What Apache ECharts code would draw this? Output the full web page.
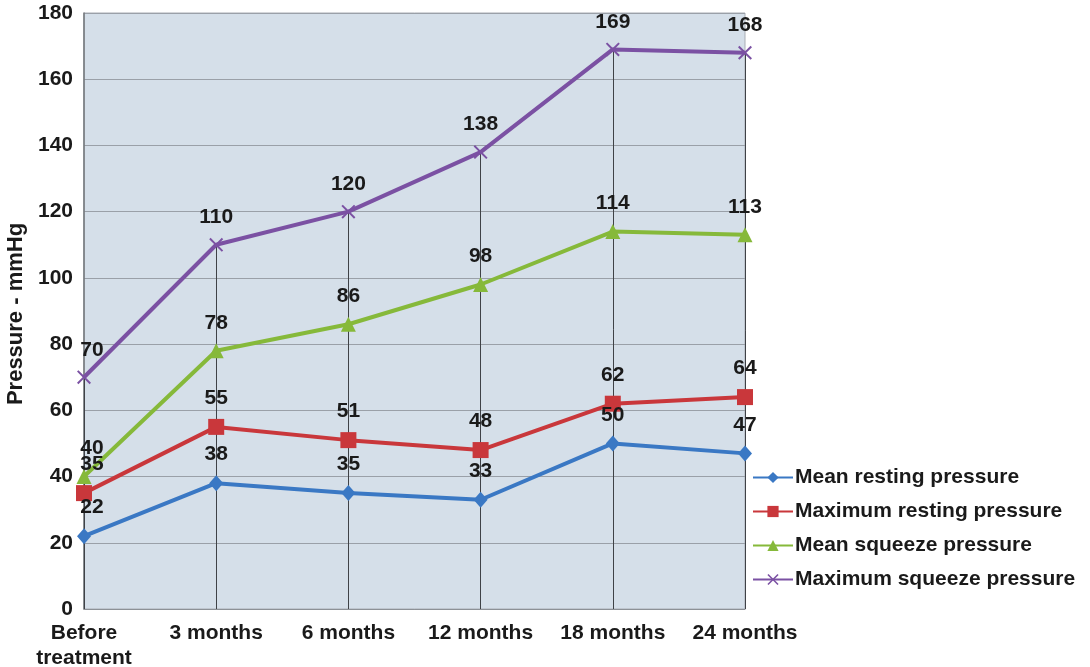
<!DOCTYPE html>
<html>
<head>
<meta charset="utf-8">
<script src="https://cdn.jsdelivr.net/npm/echarts@6/dist/echarts.min.js"></script>
<style>
  html, body { margin: 0; padding: 0; background: #ffffff; }
  #chart { width: 1090px; height: 667px; }
</style>
</head>
<body>
<div id="chart"></div>
<script>
// Time points after treatment
const categories = ['Before\ntreatment', '3 months', '6 months', '12 months', '18 months', '24 months'];

// Anal pressures in mmHg
const meanResting = [22, 38, 35, 33, 50, 47];
const maxResting = [35, 55, 51, 48, 62, 64];
const meanSqueeze = [40, 78, 86, 98, 114, 113];
const maxSqueeze = [70, 110, 120, 138, 169, 168];

const seriesNames = ['Mean resting pressure', 'Maximum resting pressure', 'Mean squeeze pressure', 'Maximum squeeze pressure'];
const yTicks = [0, 20, 40, 60, 80, 100, 120, 140, 160, 180];

const FONT = '"Liberation Sans", Arial, Helvetica, sans-serif';
const crossPath = 'path://M0,1L1,0L5,4L9,0L10,1L6,5L10,9L9,10L5,6L1,10L0,9L4,5Z';

const labelStyle = {
  show: true,
  position: 'top',
  distance: 10,
  color: '#1a1a1a',
  fontFamily: FONT,
  fontWeight: 'bold',
  fontSize: 21
};

// First-column labels sit a little to the right of the axis
function withLabelOffsets(data) {
  return data.map((v, i) => i === 0 ? { value: v, label: { offset: [8, 0] } } : v);
}

function lineSeries(name, data, color, symbol, symbolSize) {
  return {
    name: name,
    type: 'line',
    data: withLabelOffsets(data),
    symbol: symbol,
    symbolSize: symbolSize,
    lineStyle: { color: color, width: 4 },
    itemStyle: { color: color },
    label: labelStyle,
    z: 3
  };
}

// Drop lines from the top series down to the category axis
const dropLines = categories.map((c, i) => [
  { coord: [i, maxSqueeze[i]] },
  { coord: [i, 0] }
]);

const chart = echarts.init(document.getElementById('chart'));
chart.setOption({
  animation: false,
  backgroundColor: '#ffffff',
  grid: {
    left: 84, right: 345, top: 13, bottom: 58,
    outerBoundsMode: 'none',
    containLabel: false,
    show: true,
    backgroundColor: '#d5dfe9',
    borderColor: '#a9adb4',
    borderWidth: 1
  },
  legend: {
    orient: 'vertical',
    left: 752,
    top: 467,
    padding: 0,
    itemGap: 13,
    itemWidth: 40,
    itemHeight: 14,
    data: seriesNames,
    textStyle: { color: '#1a1a1a', fontFamily: FONT, fontWeight: 'bold', fontSize: 21, padding: [0, 0, 0, -3] }
  },
  xAxis: {
    type: 'category',
    data: categories,
    boundaryGap: false,
    axisLine: { show: true, lineStyle: { color: '#8d9196', width: 1 } },
    axisTick: { show: false },
    splitLine: { show: false },
    axisLabel: {
      color: '#1a1a1a', fontFamily: FONT, fontWeight: 'bold', fontSize: 21,
      margin: 12, lineHeight: 25, interval: 0
    }
  },
  yAxis: {
    type: 'value',
    min: yTicks[0],
    max: yTicks[yTicks.length - 1],
    interval: 20,
    name: 'Pressure - mmHg',
    nameLocation: 'middle',
    nameGap: 56,
    nameTextStyle: { color: '#1a1a1a', fontFamily: FONT, fontWeight: 'bold', fontSize: 22, padding: [0, 6, 0, 0] },
    axisLine: { show: true, lineStyle: { color: '#707479', width: 1.5 } },
    axisTick: { show: false },
    splitLine: { show: true, lineStyle: { color: '#9aa0a8', width: 1.2 } },
    axisLabel: { color: '#1a1a1a', fontFamily: FONT, fontWeight: 'bold', fontSize: 21, margin: 11 }
  },
  series: [
    lineSeries(seriesNames[0], meanResting, '#3a78c4', 'diamond', [14, 16]),
    lineSeries(seriesNames[1], maxResting, '#c9373b', 'rect', 16),
    lineSeries(seriesNames[2], meanSqueeze, '#86b93a', 'triangle', 15),
    Object.assign(lineSeries(seriesNames[3], maxSqueeze, '#7b51a3', crossPath, 14), {
      markLine: {
        silent: true,
        symbol: 'none',
        label: { show: false },
        lineStyle: { color: '#3f4247', width: 1, type: 'solid' },
        data: dropLines,
        z: 1
      }
    })
  ]
});
</script>
</body>
</html>
